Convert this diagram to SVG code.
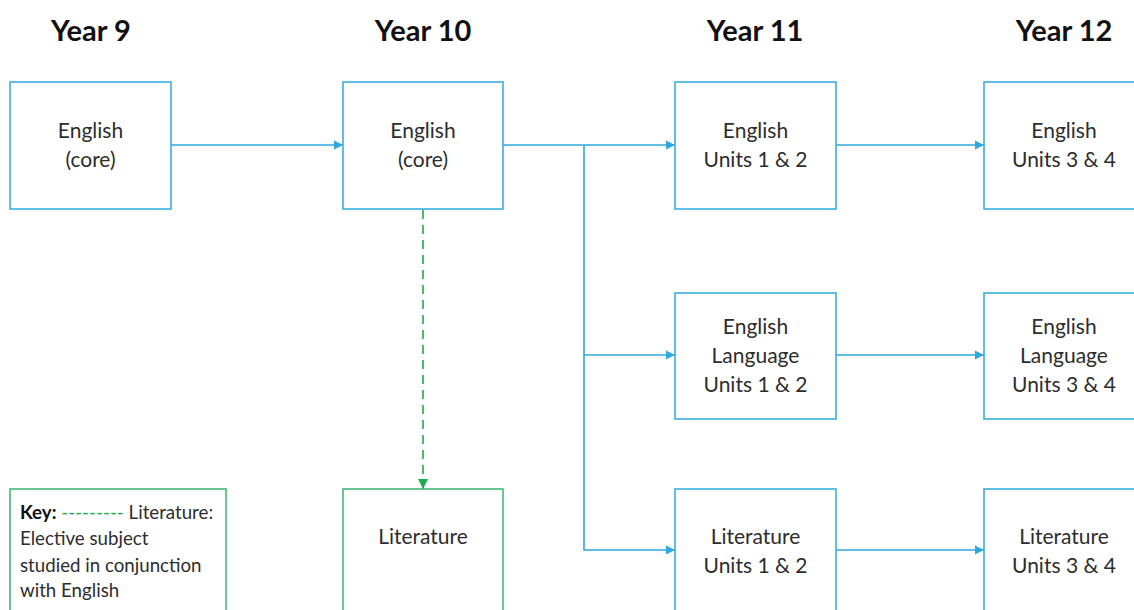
<svg xmlns="http://www.w3.org/2000/svg" width="1134" height="610" viewBox="0 0 1134 610">
<style>
.hd{font-family:Lato,"Open Sans","Liberation Sans",sans-serif;font-weight:700;font-size:29px;fill:#111;text-anchor:middle}
.bx{fill:#fff;stroke:#3aaedf;stroke-width:1.6}
.gb{fill:#fff;stroke:#45b97a;stroke-width:1.6}
.t{font-family:Lato,"Open Sans","Liberation Sans",sans-serif;font-size:21px;fill:#2d2d2d;text-anchor:middle}
.k{font-family:Lato,"Open Sans","Liberation Sans",sans-serif;font-size:18.7px;fill:#2d2d2d}
.ln{fill:none;stroke:#2fa8de;stroke-width:1.6}
.dl{fill:none;stroke:#1faa4c;stroke-width:1.6;stroke-dasharray:9 6}
</style>
<defs>
<marker id="ab" viewBox="0 0 10 10" refX="10" refY="5" markerWidth="9" markerHeight="10" markerUnits="userSpaceOnUse" orient="auto"><path d="M0,0 L10,5 L0,10 z" fill="#2fa8de"/></marker>
<marker id="ag" viewBox="0 0 10 10" refX="10" refY="5" markerWidth="10" markerHeight="10" markerUnits="userSpaceOnUse" orient="auto"><path d="M0,0 L10,5 L0,10 z" fill="#1faa4c"/></marker>
</defs>
<rect width="1134" height="610" fill="#fff"/>
<g id="headers">
<text class="hd" x="91" y="41">Year 9</text>
<text class="hd" x="423" y="41">Year 10</text>
<text class="hd" x="755" y="41">Year 11</text>
<text class="hd" x="1064" y="41">Year 12</text>
</g>
<g id="connectors">
<line class="ln" x1="171" y1="145" x2="343" y2="145" marker-end="url(#ab)"/>
<line class="ln" x1="503" y1="145" x2="675" y2="145" marker-end="url(#ab)"/>
<polyline class="ln" points="584,145 584,550 675,550" marker-end="url(#ab)"/>
<line class="ln" x1="584" y1="355" x2="675" y2="355" marker-end="url(#ab)"/>
<line class="ln" x1="836" y1="145" x2="984" y2="145" marker-end="url(#ab)"/>
<line class="ln" x1="836" y1="355" x2="984" y2="355" marker-end="url(#ab)"/>
<line class="ln" x1="836" y1="550" x2="984" y2="550" marker-end="url(#ab)"/>
<line class="dl" x1="423" y1="210" x2="423" y2="489" marker-end="url(#ag)"/>
</g>
<g id="y9-english">
<rect class="bx" x="10" y="82" width="161" height="127"/>
<text class="t" x="90.5" y="138">English</text>
<text class="t" x="90.5" y="167">(core)</text>
</g>
<g id="y10-english">
<rect class="bx" x="343" y="82" width="160" height="127"/>
<text class="t" x="423" y="138">English</text>
<text class="t" x="423" y="167">(core)</text>
</g>
<g id="y11-english">
<rect class="bx" x="675" y="82" width="161" height="127"/>
<text class="t" x="755.5" y="138">English</text>
<text class="t" x="755.5" y="167">Units 1 &amp; 2</text>
</g>
<g id="y12-english">
<rect class="bx" x="984" y="82" width="160" height="127"/>
<text class="t" x="1064" y="138">English</text>
<text class="t" x="1064" y="167">Units 3 &amp; 4</text>
</g>
<g id="y11-language">
<rect class="bx" x="675" y="293" width="161" height="126"/>
<text class="t" x="755.5" y="334">English</text>
<text class="t" x="755.5" y="363">Language</text>
<text class="t" x="755.5" y="392">Units 1 &amp; 2</text>
</g>
<g id="y12-language">
<rect class="bx" x="984" y="293" width="160" height="126"/>
<text class="t" x="1064" y="334">English</text>
<text class="t" x="1064" y="363">Language</text>
<text class="t" x="1064" y="392">Units 3 &amp; 4</text>
</g>
<g id="y10-literature">
<rect class="gb" x="343" y="489" width="160" height="140"/>
<text class="t" x="423" y="544">Literature</text>
</g>
<g id="y11-literature">
<rect class="bx" x="675" y="489" width="161" height="140"/>
<text class="t" x="755.5" y="544">Literature</text>
<text class="t" x="755.5" y="573">Units 1 &amp; 2</text>
</g>
<g id="y12-literature">
<rect class="bx" x="984" y="489" width="160" height="140"/>
<text class="t" x="1064" y="544">Literature</text>
<text class="t" x="1064" y="573">Units 3 &amp; 4</text>
</g>
<g id="key">
<rect class="gb" x="10" y="489" width="216" height="140"/>
<text class="k" x="20" y="519"><tspan font-weight="700" fill="#111">Key:</tspan> <tspan fill="#1faa4c">---------</tspan> Literature:</text>
<text class="k" x="20" y="545">Elective subject</text>
<text class="k" x="20" y="572">studied in conjunction</text>
<text class="k" x="20" y="597">with English</text>
</g>
</svg>
